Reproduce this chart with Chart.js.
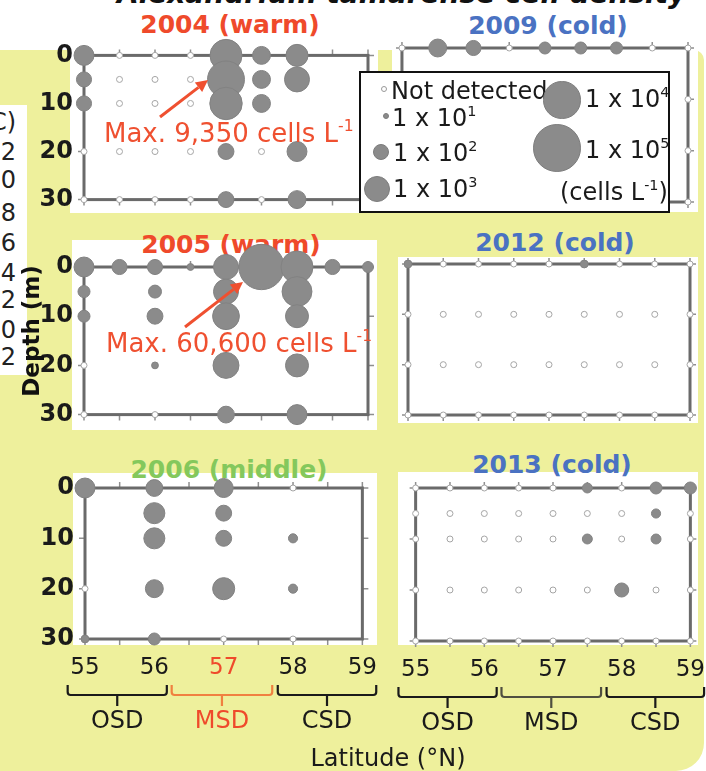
<!DOCTYPE html>
<html>
<head>
<meta charset="utf-8">
<script src="https://cdn.jsdelivr.net/npm/chart.js@4.4.1/dist/chart.umd.min.js"></script>
<style>
html, body { margin: 0; padding: 0; background: #fff; overflow: hidden; }
#fig { position: relative; width: 706px; height: 771px; overflow: hidden; font-family: 'DejaVu Sans', sans-serif; color: #1a1a1a; }
#fig div { position: absolute; white-space: nowrap; }
canvas { position: absolute; z-index: 2; }
.bg { background: #fff; z-index: 0; }
.title { z-index: 1; font-weight: bold; font-size: 25px; line-height: 30px; width: 300px; text-align: center; }
.note { z-index: 3; font-size: 26px; line-height: 30px; color: #ef5030; }
.note sup, .leg sup { font-size: 60%; line-height: 0; vertical-align: 0.7em; }
.leg { z-index: 5; font-size: 24px; line-height: 30px; color: #1a1a1a; }
</style>
</head>
<body>
<div id="fig">
  <div style="left:0;top:50px;width:704px;height:721px;background:#eef09c;border-top-right-radius:10px;border-bottom-right-radius:28px;z-index:0;"></div>
  <div id="sideCol" style="left:0;top:105px;width:27px;height:270px;background:#fff;overflow:hidden;z-index:1;"></div>
  <div style="left:117px;top:-20px;font-size:28px;line-height:28px;font-weight:bold;font-style:italic;color:#111;z-index:1;">Alexandrium tamarense cell density</div>

  <div class="bg" style="left:70px;top:40px;width:308px;height:173px;"></div>
  <div class="bg" style="left:392px;top:40px;width:306px;height:172px;"></div>
  <div class="bg" style="left:72px;top:240px;width:305px;height:190px;"></div>
  <div class="bg" style="left:398px;top:257px;width:300px;height:166px;"></div>
  <div class="bg" style="left:73px;top:473px;width:304px;height:172px;"></div>
  <div class="bg" style="left:398px;top:472px;width:300px;height:173px;"></div>

  <div class="title" style="left:80px;top:10px;color:#ef4a2b;">2004 (warm)</div>
  <div class="title" style="left:398px;top:11px;color:#4a72c2;">2009 (cold)</div>
  <div class="title" style="left:81px;top:230px;color:#ef4a2b;">2005 (warm)</div>
  <div class="title" style="left:405px;top:228px;color:#4a72c2;">2012 (cold)</div>
  <div class="title" style="left:79px;top:455px;color:#84c85c;">2006 (middle)</div>
  <div class="title" style="left:402px;top:450px;color:#4a72c2;">2013 (cold)</div>

  <canvas id="c2004" width="362" height="195" style="left:30px;top:30px;"></canvas>
  <canvas id="c2009" width="328" height="195" style="left:392px;top:30px;"></canvas>
  <canvas id="c2005" width="362" height="215" style="left:30px;top:225px;"></canvas>
  <canvas id="c2012" width="328" height="215" style="left:392px;top:225px;"></canvas>
  <canvas id="c2006" width="362" height="331" style="left:30px;top:440px;"></canvas>
  <canvas id="c2013" width="334" height="331" style="left:386px;top:440px;"></canvas>

  <div class="note" style="left:104px;top:118px;">Max. 9,350 cells L<sup>-1</sup></div>
  <div class="note" style="left:106px;top:328px;">Max. 60,600 cells L<sup>-1</sup></div>
  <svg style="position:absolute;left:0;top:0;z-index:3;" width="706" height="771" id="arrows"></svg>

  <div style="left:31px;top:331px;transform:translate(-50%,-50%) rotate(-90deg);font-size:23px;line-height:28px;font-weight:bold;color:#111;z-index:3;">Depth (m)</div>

  <div style="left:359px;top:71px;width:311px;height:142px;box-sizing:border-box;border:2px solid #111;background:#fff;z-index:4;"></div>

  <div style="left:0;top:743px;width:776px;text-align:center;font-size:24px;line-height:30px;color:#1a1a1a;z-index:3;">Latitude (°N)</div>
</div>

<script>
// stations (deg N) and sampling depths (m)
var lats = [55, 55.5, 56, 56.5, 57, 57.5, 58, 58.5, 59];
var depths = [0, 5, 10, 20, 30];

// A. tamarense cells per litre; rows = depths, cols = lats; 0 = not detected, null = no sample
var cells2004 = [
    [220, 0, 0, 0, 3200, 140, 350, null, null],
    [75, 0, 0, 0, 9350, 140, 670, null, null],
    [75, 0, 0, 0, 3500, 140, null, null, null],
    [0, 0, 0, 0, 90, 0, 220, null, null],
    [0, 0, 0, 0, 90, 0, 140, null, null]
];
var cells2005 = [
    [220, 75, 75, 12, 670, 60600, 3200, 75, 30],
    [38, null, 47, null, 670, null, 2000, null, null],
    [38, null, 90, null, 1000, null, 430, null, null],
    [0, null, 12, null, 830, null, 430, null, null],
    [0, null, 0, null, 110, null, 220, null, null]
];
var cells2006 = [
    [220, null, 110, null, 180, null, 0, null, null],
    [null, null, 280, null, 90, null, null, null, null],
    [null, null, 280, null, 90, null, 20, null, null],
    [0, null, 140, null, 350, null, 20, null, null],
    [15, null, 38, null, 0, null, 0, null, null]
];
var cells2009 = [
    [0, 140, 75, 0, 38, 38, 38, 0, 0],
    [null, null, null, null, null, null, null, null, null],
    [null, null, null, null, null, null, null, null, 0],
    [null, null, null, null, null, null, null, null, 0],
    [null, null, null, null, null, null, null, null, 0]
];
var cells2012 = [
    [15, 0, 0, 0, 0, 15, 0, 0, 0],
    [null, null, null, null, null, null, null, null, null],
    [0, 0, 0, 0, 0, 0, 0, 0, 0],
    [0, 0, 0, 0, 0, 0, 0, 0, 0],
    [0, 0, 0, 0, 0, 0, 0, 0, 0]
];
var cells2013 = [
    [0, 0, 0, 0, 0, 24, 0, 38, 38],
    [0, 0, 0, 0, 0, 0, 0, 20, 0],
    [0, 0, 0, 0, 0, 24, 0, 24, 0],
    [0, 0, 0, 0, 0, 0, 60, 0, 0],
    [0, 0, 0, 0, 0, 0, 0, 0, 0]
];

var depthTicks = [0, 10, 20, 30];

// sea domains under the latitude axis
var zoneNames = ['OSD', 'MSD', 'CSD'];
var zoneStart = [54.75, 56.25, 57.78];
var zoneEnd = [56.18, 57.7, 59.2];

var legendValues = [0, 10, 100, 1000, 10000, 100000];
var legendLabels = ['Not detected', '1 x 10<sup>1</sup>', '1 x 10<sup>2</sup>', '1 x 10<sup>3</sup>', '1 x 10<sup>4</sup>', '1 x 10<sup>5</sup>'];

var sideLabels = ['(°C)', '12', '10', '8', '6', '4', '2', '0', '-2'];

var RED = '#ef4a2b';
var DARK = '#1a1a1a';
var GREY = '#8b8b8b';

function bubbleRadius(v) {
    if (v === 0) return 3;
    return 3 + 5.2 * (Math.log10(v) - 1);
}

function makePoints(grid) {
    var pts = [];
    depths.forEach(function(d, i) {
        lats.forEach(function(lat, j) {
            var v = grid[i][j];
            if (v === null) return;
            pts.push({x: lat, y: d, r: bubbleRadius(v), cells: v});
        });
    });
    return pts;
}

var framePlugin = {
    id: 'frame',
    beforeDatasetsDraw: function(chart) {
        var ctx = chart.ctx, a = chart.chartArea, x = chart.scales.x, y = chart.scales.y;
        ctx.save();
        ctx.strokeStyle = '#8f8f8f';
        ctx.lineWidth = 1.5;
        ctx.beginPath();
        for (var v = 55; v <= 59; v += 0.5) {
            var px = x.getPixelForValue(v);
            ctx.moveTo(px, a.top); ctx.lineTo(px, a.top - 6);
            ctx.moveTo(px, a.bottom); ctx.lineTo(px, a.bottom + 6);
        }
        depthTicks.forEach(function(d) {
            var py = y.getPixelForValue(d);
            ctx.moveTo(a.left, py); ctx.lineTo(a.left - 6, py);
            ctx.moveTo(a.right, py); ctx.lineTo(a.right + 6, py);
        });
        ctx.stroke();
        ctx.strokeStyle = '#6a6a6a';
        ctx.lineWidth = 3;
        ctx.strokeRect(a.left, a.top, a.right - a.left, a.bottom - a.top);
        ctx.restore();
    }
};

function bracePlugin(braceColors, textColors) {
    return {
        id: 'braces',
        afterDraw: function(chart) {
            var ctx = chart.ctx, x = chart.scales.x, b = chart.chartArea.bottom;
            var y0 = b + 46, y1 = b + 56, y2 = b + 67;
            ctx.save();
            ctx.lineWidth = 2.2;
            ctx.font = '24px "DejaVu Sans"';
            ctx.textAlign = 'center';
            ctx.textBaseline = 'middle';
            zoneNames.forEach(function(name, i) {
                var x0 = x.getPixelForValue(zoneStart[i]);
                var x1 = x.getPixelForValue(zoneEnd[i]);
                var xc = (x0 + x1) / 2;
                ctx.strokeStyle = braceColors[i];
                ctx.beginPath();
                ctx.moveTo(x0, y0);
                ctx.lineTo(x0, y1 - 3);
                ctx.quadraticCurveTo(x0, y1, x0 + 3, y1);
                ctx.lineTo(x1 - 3, y1);
                ctx.quadraticCurveTo(x1, y1, x1, y1 - 3);
                ctx.lineTo(x1, y0);
                ctx.moveTo(xc, y1);
                ctx.lineTo(xc, y2);
                ctx.stroke();
                ctx.fillStyle = textColors[i];
                ctx.fillText(name, xc, b + 83);
            });
            ctx.restore();
        }
    };
}

function drawPanel(p) {
    var plugins = [framePlugin];
    if (p.braces) plugins.push(bracePlugin(p.braces, p.braceText));
    new Chart(document.getElementById(p.id).getContext('2d'), {
        type: 'bubble',
        data: {
            datasets: [{
                data: makePoints(p.cells),
                clip: false,
                borderWidth: 1,
                backgroundColor: function(c) { return c.raw && c.raw.cells === 0 ? '#ffffff' : GREY; },
                borderColor: function(c) { return c.raw && c.raw.cells === 0 ? '#a5a5a5' : '#828282'; }
            }]
        },
        options: {
            responsive: false,
            animation: false,
            devicePixelRatio: 1,
            events: [],
            layout: {padding: {left: 0, top: p.top, right: p.right, bottom: 0}},
            scales: {
                x: {
                    type: 'linear', min: 55, max: 59,
                    afterFit: function(s) { s.height = p.xh; },
                    grid: {display: false, drawTicks: false},
                    border: {display: false},
                    ticks: {
                        display: !!p.xLabels, stepSize: 1, padding: 15,
                        font: {family: 'DejaVu Sans', size: 23},
                        color: function(c) { return p.redLat === c.tick.value ? RED : DARK; }
                    }
                },
                y: {
                    type: 'linear', min: 0, max: 30, reverse: true,
                    afterFit: function(s) { s.width = p.yw; },
                    grid: {display: false, drawTicks: false},
                    border: {display: false},
                    ticks: {
                        display: !!p.yLabels, stepSize: 10, padding: 11,
                        font: {family: 'DejaVu Sans', size: 24, weight: 'bold'},
                        color: DARK
                    }
                }
            },
            plugins: {
                legend: {display: false},
                tooltip: {enabled: false}
            }
        },
        plugins: plugins
    });
}

document.addEventListener('DOMContentLoaded', function() {
    Chart.defaults.font.family = 'DejaVu Sans';

    // canvas origin + chart area -> padding / axis sizes
    var panels = [
        {id: 'c2004', cells: cells2004, cx: 30, cy: 30, cw: 362, ch: 195, area: [84, 49, 368, 200], yLabels: true},
        {id: 'c2009', cells: cells2009, cx: 392, cy: 30, cw: 328, ch: 195, area: [400, 48, 688, 202]},
        {id: 'c2005', cells: cells2005, cx: 30, cy: 225, cw: 362, ch: 215, area: [84, 267, 368, 420], yLabels: true},
        {id: 'c2012', cells: cells2012, cx: 392, cy: 225, cw: 328, ch: 215, area: [408, 264, 690, 415]},
        {id: 'c2006', cells: cells2006, cx: 30, cy: 440, cw: 362, ch: 331, area: [85, 488, 368, 639], yLabels: true, xLabels: true,
            redLat: 57, braces: [DARK, '#f08040', DARK], braceText: [DARK, RED, DARK]},
        {id: 'c2013', cells: cells2013, cx: 386, cy: 440, cw: 334, ch: 331, area: [408, 488, 692, 641], xLabels: true,
            braces: [DARK, '#4f4f40', DARK], braceText: [DARK, DARK, DARK]}
    ];
    panels.forEach(function(p) {
        p.yw = p.area[0] - p.cx;
        p.top = p.area[1] - p.cy;
        p.right = p.cx + p.cw - p.area[2];
        p.xh = p.cy + p.ch - p.area[3];
        drawPanel(p);
    });

    // arrows pointing at the maxima
    var svg = document.getElementById('arrows');
    [[160, 117, 208, 80], [185, 327, 243, 282]].forEach(function(a) {
        var dx = a[2] - a[0], dy = a[3] - a[1], len = Math.sqrt(dx * dx + dy * dy);
        var ux = dx / len, uy = dy / len, bx = a[2] - 12 * ux, by = a[3] - 12 * uy;
        svg.innerHTML += '<line x1="' + a[0] + '" y1="' + a[1] + '" x2="' + bx + '" y2="' + by + '" stroke="#ef5030" stroke-width="3"/>' +
            '<polygon fill="#ef5030" points="' + a[2] + ',' + a[3] + ' ' + (bx - 6 * uy) + ',' + (by + 6 * ux) + ' ' + (bx + 6 * uy) + ',' + (by - 6 * ux) + '"/>';
    });

    // legend
    var fig = document.getElementById('fig');
    var legPos = [[384, 89, 391, 91], [386, 116, 392, 118], [381, 152, 393, 153], [377, 189, 393, 189], [562, 100, 585, 99], [557, 148, 585, 150]];
    legendValues.forEach(function(v, i) {
        var r = bubbleRadius(v), pos = legPos[i];
        var dot = document.createElement('div');
        dot.style.cssText = 'left:' + (pos[0] - r) + 'px;top:' + (pos[1] - r) + 'px;width:' + (2 * r) + 'px;height:' + (2 * r) + 'px;box-sizing:border-box;border-radius:50%;z-index:5;' +
            'border:1px solid ' + (v === 0 ? '#999' : '#7c7c7c') + ';background:' + (v === 0 ? '#fff' : GREY) + ';';
        fig.appendChild(dot);
        var t = document.createElement('div');
        t.className = 'leg';
        t.style.left = pos[2] + 'px';
        t.style.top = (pos[3] - 15) + 'px';
        t.innerHTML = legendLabels[i];
        fig.appendChild(t);
    });
    var unit = document.createElement('div');
    unit.className = 'leg';
    unit.style.left = '560px';
    unit.style.top = '177px';
    unit.innerHTML = '(cells L<sup>-1</sup>)';
    fig.appendChild(unit);

    // clipped colour-scale labels at the far left
    var side = document.getElementById('sideCol');
    var sideY = [122, 152, 180, 213, 243, 273, 300, 330, 357];
    sideLabels.forEach(function(s, i) {
        var d = document.createElement('div');
        d.style.cssText = 'left:-66px;width:82px;text-align:right;font-size:24px;line-height:28px;color:#222;top:' + (sideY[i] - 105 - 14) + 'px;';
        d.textContent = s;
        side.appendChild(d);
    });
});
</script>
</body>
</html>
